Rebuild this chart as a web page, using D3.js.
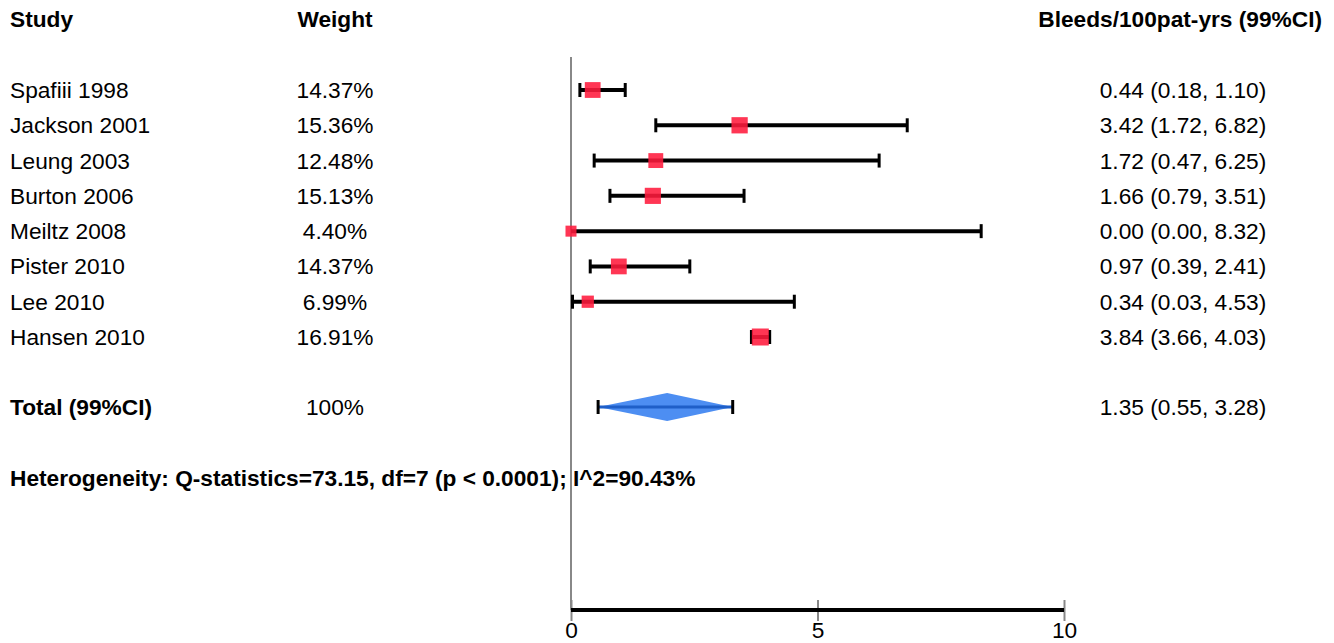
<!DOCTYPE html>
<html><head><meta charset="utf-8">
<script src="https://cdn.jsdelivr.net/npm/d3@7"></script>
<style>body{margin:0;background:#fff;} text{font-family:"Liberation Sans",Arial,sans-serif;}</style>
</head><body>
<svg id="c" width="1334" height="643"></svg>
<script>
const studies = ["Spafiii 1998","Jackson 2001","Leung 2003","Burton 2006","Meiltz 2008","Pister 2010","Lee 2010","Hansen 2010"];
const weights = [14.37,15.36,12.48,15.13,4.40,14.37,6.99,16.91];
const estimates = [0.44,3.42,1.72,1.66,0.00,0.97,0.34,3.84];
const lowers = [0.18,1.72,0.47,0.79,0.00,0.39,0.03,3.66];
const uppers = [1.10,6.82,6.25,3.51,8.32,2.41,4.53,4.03];
const total = {label:"Total (99%CI)", weight:"100%", est:1.35, lo:0.55, hi:3.28, peak:1.95};
const heterogeneity = "Heterogeneity: Q-statistics=73.15, df=7 (p < 0.0001); I^2=90.43%";
const headers = ["Study","Weight","Bleeds/100pat-yrs (99%CI)"];
const xTicks = [0,5,10];

const svg = d3.select("#c");
const fs = 22.7;
const x = d3.scaleLinear().domain([0,10]).range([571,1064]);
const y = d3.scaleLinear().domain([0,7]).range([90,337]);
const size = d3.scaleLinear().domain([4.4,16.91]).range([11,17]);
const fmt = d3.format(".2f");
const colStudy = 10, colWeight = 335, colCI = 1183;

// headers
svg.append("text").attr("x",colStudy).attr("y",27).attr("font-size",fs).attr("font-weight","bold").text(headers[0]);
svg.append("text").attr("x",colWeight).attr("y",27).attr("font-size",fs).attr("font-weight","bold").attr("text-anchor","middle").text(headers[1]);
svg.append("text").attr("x",1322).attr("y",27).attr("font-size",fs).attr("font-weight","bold").attr("text-anchor","end").text(headers[2]);

// reference line
svg.append("line").attr("x1",x(0)).attr("x2",x(0)).attr("y1",57).attr("y2",610).attr("stroke","#888").attr("stroke-width",2);

// axis
const axis = d3.axisBottom(x).tickValues(xTicks).tickSize(11).tickFormat(d3.format("d"));
const ag = svg.append("g").attr("transform","translate(0,610)").call(axis);
ag.select(".domain").remove();
ag.selectAll(".tick line").attr("y1",-10).attr("y2",11).attr("stroke","#888").attr("stroke-width",2);
ag.selectAll(".tick text").attr("font-size",fs).attr("fill","#000").attr("y",28).attr("dy",null).attr("font-family","Liberation Sans, Arial, sans-serif");
svg.append("line").attr("x1",x(0)).attr("x2",x(10)).attr("y1",610).attr("y2",610).attr("stroke","#000").attr("stroke-width",4);

// rows
const rows = studies.map((s,i)=>({s,w:weights[i],e:estimates[i],lo:lowers[i],hi:uppers[i],i}));
const g = svg.append("g");
rows.forEach(r=>{
  const yy = y(r.i);
  g.append("text").attr("x",colStudy).attr("y",yy).attr("dy","0.35em").attr("font-size",fs).text(r.s);
  g.append("text").attr("x",colWeight).attr("y",yy).attr("dy","0.35em").attr("font-size",fs).attr("text-anchor","middle").text(fmt(r.w)+"%");
  g.append("text").attr("x",colCI).attr("y",yy).attr("dy","0.35em").attr("font-size",fs).attr("text-anchor","middle").text(`${fmt(r.e)} (${fmt(r.lo)}, ${fmt(r.hi)})`);
  g.append("line").attr("x1",x(r.lo)).attr("x2",x(r.hi)).attr("y1",yy).attr("y2",yy).attr("stroke","#000").attr("stroke-width",4);
  if (r.lo > 0) g.append("line").attr("x1",x(r.lo)).attr("x2",x(r.lo)).attr("y1",yy-7).attr("y2",yy+7).attr("stroke","#000").attr("stroke-width",3);
  g.append("line").attr("x1",x(r.hi)).attr("x2",x(r.hi)).attr("y1",yy-7).attr("y2",yy+7).attr("stroke","#000").attr("stroke-width",3);
  const s = size(r.w);
  g.append("rect").attr("x",x(r.e)-s/2).attr("y",yy-s/2).attr("width",s).attr("height",s).attr("fill","#ff1a3c").attr("fill-opacity",0.88);
});

// total
const ty = 407;
svg.append("text").attr("x",colStudy).attr("y",ty).attr("dy","0.35em").attr("font-size",fs).attr("font-weight","bold").text(total.label);
svg.append("text").attr("x",colWeight).attr("y",ty).attr("dy","0.35em").attr("font-size",fs).attr("text-anchor","middle").text(total.weight);
svg.append("text").attr("x",colCI).attr("y",ty).attr("dy","0.35em").attr("font-size",fs).attr("text-anchor","middle").text(`${fmt(total.est)} (${fmt(total.lo)}, ${fmt(total.hi)})`);
svg.append("path").attr("d",`M${x(total.lo)},${ty} L${x(total.peak)},${ty-14} L${x(total.hi)},${ty} L${x(total.peak)},${ty+14} Z`).attr("fill","#4d8ef2");
svg.append("line").attr("x1",x(total.lo)).attr("x2",x(total.hi)).attr("y1",ty).attr("y2",ty).attr("stroke","#1f5fc8").attr("stroke-width",3);
[total.lo,total.hi].forEach(v=>svg.append("line").attr("x1",x(v)).attr("x2",x(v)).attr("y1",ty-7).attr("y2",ty+7).attr("stroke","#000").attr("stroke-width",3));

svg.append("text").attr("x",colStudy).attr("y",478).attr("dy","0.35em").attr("font-size",fs).attr("font-weight","bold").text(heterogeneity);
</script>
</body></html>
